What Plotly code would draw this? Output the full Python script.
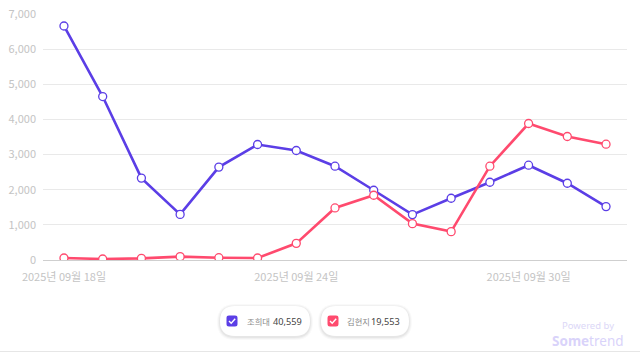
import plotly.graph_objects as go
import pandas as pd

dates = pd.date_range("2025-09-18", "2025-10-02", freq="D")
series_names = ["조희대", "김현지"]
totals = ["40,559", "19,553"]
cho = [6659, 4651, 2330, 1298, 2643, 3287, 3116, 2669, 1985, 1292, 1757, 2213, 2697, 2184, 1519]
kim = [57, 28, 47, 95, 66, 57, 474, 1481, 1842, 1035, 807, 2669, 3884, 3514, 3295]
colors = ["#5b3ee6", "#ff4a6e"]
y_ticks = [0, 1000, 2000, 3000, 4000, 5000, 6000, 7000]

W, H = 640, 352
L, R, T, B = 43, 13, 14, 92
PW, PH = W - L - R, H - T - B

FONT = "Noto Sans CJK KR, Noto Sans, sans-serif"

fig = go.Figure()
for name, vals, col in zip(series_names, [cho, kim], colors):
    fig.add_trace(go.Scatter(
        x=dates, y=vals, name=name, mode="lines+markers",
        line=dict(color=col, width=2.6),
        marker=dict(size=8, color="white", line=dict(color=col, width=1.3)),
        showlegend=False,
    ))

pad = pd.Timedelta(hours=13)

def px(x, y):
    return (x - L) / PW, (H - B - y) / PH

def rrect(x0, y0, x1, y1, r):
    def P(x, y):
        a, b = px(x, y)
        return f"{a:.5f},{b:.5f}"
    d = f"M{P(x0 + r, y0)} L{P(x1 - r, y0)} Q{P(x1, y0)} {P(x1, y0 + r)} "
    d += f"L{P(x1, y1 - r)} Q{P(x1, y1)} {P(x1 - r, y1)} "
    d += f"L{P(x0 + r, y1)} Q{P(x0, y1)} {P(x0, y1 - r)} "
    d += f"L{P(x0, y0 + r)} Q{P(x0, y0)} {P(x0 + r, y0)} Z"
    return d

shapes = []
annotations = []
pills = [(220, 310, 232, 245.5, 303), (321, 409, 333, 345.5, 401)]
for (x0, x1, cx, tx, nx), name, tot, col in zip(pills, series_names, totals, colors):
    for g, a in [(3, 0.022), (2, 0.032), (1, 0.045)]:
        shapes.append(dict(type="path", xref="paper", yref="paper",
                           path=rrect(x0 - g, 306 - g + 1, x1 + g, 336 + g + 1, 15 + g),
                           fillcolor=f"rgba(0,0,0,{a})", line=dict(width=0)))
    shapes.append(dict(type="path", xref="paper", yref="paper",
                       path=rrect(x0, 306, x1, 336, 15),
                       fillcolor="white", line=dict(width=0)))
    shapes.append(dict(type="path", xref="paper", yref="paper",
                       path=rrect(cx - 5.5, 315.5, cx + 5.5, 326.5, 2.5),
                       fillcolor=col, line=dict(width=0)))
    a1 = px(cx - 3, 321); a2 = px(cx - 0.8, 323.2); a3 = px(cx + 3.2, 318.8)
    shapes.append(dict(type="path", xref="paper", yref="paper",
                       path=f"M{a1[0]},{a1[1]} L{a2[0]},{a2[1]} L{a3[0]},{a3[1]}",
                       line=dict(color="white", width=1.4)))
    p = px(tx, 321)
    annotations.append(dict(x=p[0], y=p[1], xref="paper", yref="paper", text=name,
                            showarrow=False, xanchor="left", yanchor="middle", borderpad=0,
                            font=dict(family=FONT, size=8.3, color="#8a8a8a")))
    p = px(nx, 321)
    annotations.append(dict(x=p[0], y=p[1], xref="paper", yref="paper", text=tot,
                            showarrow=False, xanchor="right", yanchor="middle", borderpad=0,
                            font=dict(family="Noto Sans, sans-serif", size=9.2, color="#444444")))

p = px(588, 325.5)
annotations.append(dict(x=p[0], y=p[1], xref="paper", yref="paper", text="Powered by",
                        showarrow=False, xanchor="center", yanchor="middle", borderpad=0,
                        font=dict(family="Noto Sans, sans-serif", size=9.5, color="#dcd8f7")))
p = px(588, 341)
annotations.append(dict(x=p[0], y=p[1], xref="paper", yref="paper", text="<b>Some</b>trend",
                        showarrow=False, xanchor="center", yanchor="middle", borderpad=0,
                        font=dict(family="Noto Sans, sans-serif", size=13.5, color="#d9d3fa")))

a, b = px(0, 351.5); c, _ = px(640, 351.5)
shapes.append(dict(type="line", xref="paper", yref="paper", x0=a, x1=c, y0=b, y1=b,
                   line=dict(color="#e6e6e6", width=1)))

fig.update_layout(
    width=W, height=H, margin=dict(l=L, r=R, t=T, b=B),
    paper_bgcolor="white", plot_bgcolor="white",
    font=dict(family=FONT, size=11, color="#c4c4c4"),
    xaxis=dict(range=[dates[0] - pad, dates[-1] + pad], showgrid=False, zeroline=False,
               tickvals=[dates[0], dates[6], dates[12]],
               ticktext=[d.strftime("%Y년 %m월 %d일") for d in [dates[0], dates[6], dates[12]]],
               tickfont=dict(size=11, color="#c4c4c4"), ticks="", showline=False,
               ticklabelstandoff=9, automargin=False),
    yaxis=dict(range=[0, 7000], tickvals=y_ticks, tickformat=",d",
               gridcolor="#e9e9e9", gridwidth=1, zeroline=True, zerolinecolor="#cfcfcf",
               zerolinewidth=1, tickfont=dict(size=11, color="#c4c4c4"), ticks="",
               ticklabelstandoff=6, showline=False, automargin=False),
    shapes=shapes, annotations=annotations,
    hovermode=False,
)

fig.write_html("out.html")
